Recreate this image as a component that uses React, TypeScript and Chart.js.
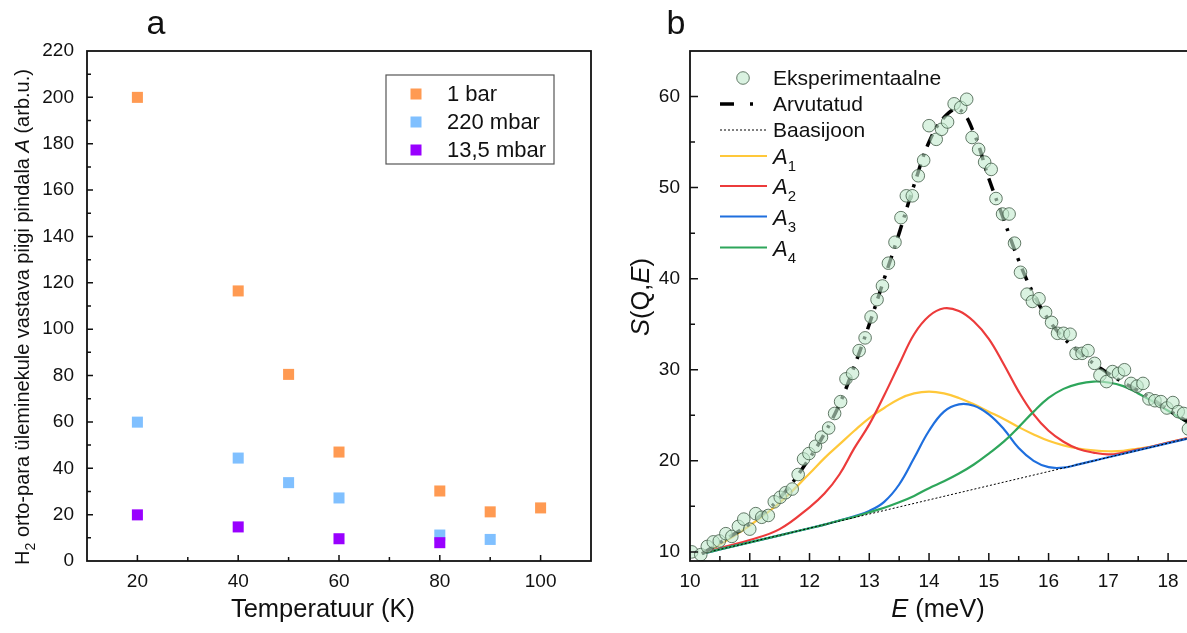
import React, { useEffect, useRef } from "react";
import { Chart, registerables } from "chart.js";

Chart.register(...registerables);

// ---------- Panel a data ----------
const seriesNamesA = ["1 bar", "220 mbar", "13,5 mbar"];
const seriesColorsA = ["#FF9A52", "#80C0FF", "#9900FF"];
const temp1bar = [20, 40, 50, 60, 80, 90, 100];
const area1bar = [200, 116.5, 80.5, 47, 30.2, 21.2, 22.9];
const temp220 = [20, 40, 50, 60, 80, 90];
const area220 = [59.9, 44.4, 33.8, 27.2, 11.2, 9.3];
const temp135 = [20, 40, 60, 80];
const area135 = [19.9, 14.7, 9.6, 7.9];

// ---------- Panel b data ----------
const expE = [10.03, 10.18, 10.29, 10.39, 10.49, 10.6, 10.7, 10.81, 10.9, 11.0, 11.1, 11.2, 11.31, 11.41, 11.51, 11.6, 11.71, 11.81, 11.9, 11.99, 12.1, 12.2, 12.32, 12.42, 12.52, 12.61, 12.72, 12.83, 12.93, 13.03, 13.13, 13.22, 13.32, 13.43, 13.53, 13.62, 13.72, 13.82, 13.91, 14.0, 14.12, 14.21, 14.31, 14.42, 14.53, 14.63, 14.72, 14.83, 14.93, 15.04, 15.12, 15.23, 15.34, 15.43, 15.53, 15.64, 15.73, 15.84, 15.95, 16.05, 16.15, 16.25, 16.36, 16.46, 16.56, 16.66, 16.77, 16.86, 16.97, 17.07, 17.17, 17.27, 17.38, 17.48, 17.58, 17.68, 17.78, 17.88, 17.98, 18.08, 18.17, 18.26, 18.34];
const expS = [10.0, 9.7, 10.6, 11.1, 11.2, 12.0, 11.7, 12.8, 13.6, 12.5, 14.2, 13.8, 14.0, 15.5, 16.0, 16.5, 16.9, 18.5, 20.2, 20.8, 21.6, 22.6, 23.6, 25.2, 26.5, 29.0, 29.6, 32.1, 33.5, 35.8, 37.7, 39.2, 41.7, 44.0, 46.7, 49.1, 49.1, 51.3, 53.0, 56.8, 55.3, 56.4, 57.2, 59.2, 58.8, 59.7, 55.5, 54.2, 52.8, 52.0, 48.8, 47.1, 47.1, 43.9, 40.7, 38.3, 37.5, 37.8, 36.3, 35.2, 34.0, 34.0, 33.9, 31.8, 31.8, 32.1, 30.7, 29.4, 28.7, 29.8, 29.6, 30.0, 28.5, 28.2, 28.5, 26.8, 26.6, 26.5, 25.8, 26.4, 25.4, 25.2, 23.5];

const fitE = [10.2, 10.5, 11, 11.5, 12, 12.25, 12.5, 12.75, 13, 13.25, 13.5, 13.75, 14, 14.25, 14.5, 14.75, 15, 15.25, 15.5, 15.75, 16, 16.25, 16.5, 16.75, 17, 17.25, 17.5, 17.75, 18, 18.4];
const fitS = [9.8, 11.0, 13.1, 15.9, 20.3, 23.0, 26.2, 30.4, 35.0, 40.0, 45.0, 50.3, 55.0, 57.7, 58.6, 56.0, 51.0, 46.5, 42.0, 38.3, 35.5, 33.5, 32.0, 30.7, 29.6, 28.6, 27.7, 26.7, 25.6, 24.0];

const baseE = [10.2, 18.4];
const baseS = [9.8, 22.56];

const compE = [10.2, 10.5, 11, 11.5, 12, 12.25, 12.5, 12.75, 13, 13.25, 13.5, 13.75, 14, 14.25, 14.5, 14.75, 15, 15.25, 15.5, 15.75, 16, 16.25, 16.5, 16.75, 17, 17.25, 17.5, 17.75, 18, 18.4];
const a1S = [9.8, 10.8, 12.9, 15.4, 18.6, 20.3, 21.8, 23.3, 24.7, 25.8, 26.8, 27.4, 27.6, 27.4, 26.9, 26.2, 25.4, 24.6, 23.7, 22.9, 22.2, 21.7, 21.35, 21.15, 21.05, 21.1, 21.35, 21.6, 22.0, 22.6];
const a2S = [9.8, 10.4, 11.3, 12.5, 14.9, 16.4, 18.5, 21.4, 24.0, 27.2, 30.6, 33.9, 35.9, 36.75, 36.45, 35.3, 33.4, 30.6, 27.6, 25.1, 23.3, 22.1, 21.3, 20.9, 20.7, 20.9, 21.25, 21.6, 22.0, 22.6];
const a3S = [9.8, 10.27, 11.04, 11.82, 12.6, 13.0, 13.45, 13.9, 14.5, 15.5, 17.4, 20.3, 23.3, 25.4, 26.2, 26.05, 25.1, 23.5, 21.4, 20.0, 19.3, 19.25, 19.61, 20.0, 20.39, 20.78, 21.17, 21.56, 21.94, 22.56];
const a4S = [9.8, 10.27, 11.04, 11.82, 12.6, 13.0, 13.45, 13.85, 14.35, 14.85, 15.45, 16.15, 17.0, 17.75, 18.6, 19.6, 20.8, 22.1, 23.7, 25.4, 26.9, 27.9, 28.45, 28.7, 28.6, 28.2, 27.4, 26.5, 25.5, 23.9];

const compColors = ["#FFC83A", "#EC3B3B", "#1F6FDE", "#2EA65B"];
const legendNamesB = ["Eksperimentaalne", "Arvutatud", "Baasijoon"];

const FAMILY = "'Liberation Sans', Arial, Helvetica, sans-serif";
const TICK_SIZE = 19;
const TITLE_SIZE = 25.5;
const LEGEND_A_SIZE = 22;
const LEGEND_B_SIZE = 21;
const PT_FILL = "rgba(196,234,206,0.62)";
const PT_BORDER = "rgba(65,90,70,0.8)";

type Part = { t: string; it?: boolean; sub?: boolean };

function drawRich(ctx: CanvasRenderingContext2D, parts: Part[], x: number, y: number, size: number, align: "left" | "center") {
  const fontFor = (p: Part) => `${p.it ? "italic " : ""}${p.sub ? Math.round(size * 0.68) : size}px ${FAMILY}`;
  let total = 0;
  const widths = parts.map((p) => {
    ctx.font = fontFor(p);
    const w = ctx.measureText(p.t).width;
    total += w;
    return w;
  });
  let cx = align === "center" ? x - total / 2 : x;
  ctx.textAlign = "left";
  ctx.textBaseline = "alphabetic";
  parts.forEach((p, i) => {
    ctx.font = fontFor(p);
    ctx.fillText(p.t, cx, y + (p.sub ? size * 0.32 : 0));
    cx += widths[i];
  });
}

function drawFrameAndTicks(chart: any, xStep: number, xMajor: (v: number) => boolean, yStep: number, yMajor: (v: number) => boolean, majLen: number, minLen: number) {
  const ctx: CanvasRenderingContext2D = chart.ctx;
  const { left, right, top, bottom } = chart.chartArea;
  const xs = chart.scales.x;
  const ys = chart.scales.y;
  ctx.save();
  ctx.strokeStyle = "#111";
  ctx.lineWidth = 1.8;
  ctx.strokeRect(left, top, right - left, bottom - top);
  ctx.lineWidth = 1.5;
  ctx.beginPath();
  const nx = Math.round((xs.max - xs.min) / xStep);
  for (let i = 0; i <= nx; i++) {
    const v = +(xs.min + i * xStep).toFixed(4);
    if (v <= xs.min || v >= xs.max) continue;
    const px = xs.getPixelForValue(v);
    const len = xMajor(v) ? majLen : minLen;
    ctx.moveTo(px, bottom);
    ctx.lineTo(px, bottom - len);
  }
  const ny = Math.round((ys.max - ys.min) / yStep) + 1;
  const y0 = Math.ceil(ys.min / yStep) * yStep;
  for (let i = 0; i <= ny; i++) {
    const v = +(y0 + i * yStep).toFixed(4);
    if (v <= ys.min || v >= ys.max) continue;
    const py = ys.getPixelForValue(v);
    const len = yMajor(v) ? majLen : minLen;
    ctx.moveTo(left, py);
    ctx.lineTo(left + len, py);
  }
  ctx.stroke();
  ctx.restore();
}

const tickFont = { family: FAMILY, size: TICK_SIZE };

function PanelA() {
  const ref = useRef<HTMLCanvasElement | null>(null);
  useEffect(() => {
    const canvas = ref.current!;
    const xs = [temp1bar, temp220, temp135];
    const ysArr = [area1bar, area220, area135];
    const plugin = {
      id: "panelA",
      afterDraw(chart: any) {
        const ctx: CanvasRenderingContext2D = chart.ctx;
        drawFrameAndTicks(chart, 10, (v) => v % 20 === 0, 10, (v) => v % 20 === 0, 6, 4);
        ctx.save();
        ctx.fillStyle = "#111";
        // panel letter
        ctx.font = `34px ${FAMILY}`;
        ctx.textAlign = "center";
        ctx.textBaseline = "alphabetic";
        ctx.fillText("a", 156, 34);
        // x title
        drawRich(ctx, [{ t: "Temperatuur (K)" }], 323, 617, TITLE_SIZE, "center");
        // y title
        ctx.save();
        ctx.translate(29, 317);
        ctx.rotate(-Math.PI / 2);
        drawRich(
          ctx,
          [
            { t: "H" },
            { t: "2", sub: true },
            { t: " orto-para üleminekule vastava piigi pindala " },
            { t: "A", it: true },
            { t: " (arb.u.)" },
          ],
          0,
          0,
          20,
          "center"
        );
        ctx.restore();
        // legend
        const bx = 386, by = 75, bw = 168, bh = 89;
        ctx.strokeStyle = "#555";
        ctx.lineWidth = 1.2;
        ctx.strokeRect(bx, by, bw, bh);
        seriesNamesA.forEach((name, i) => {
          const cy = 94 + i * 28;
          ctx.fillStyle = seriesColorsA[i];
          ctx.fillRect(416 - 5.5, cy - 5.5, 11, 11);
          ctx.fillStyle = "#111";
          ctx.font = `${LEGEND_A_SIZE}px ${FAMILY}`;
          ctx.textAlign = "left";
          ctx.textBaseline = "middle";
          ctx.fillText(name, 447, cy + 1);
        });
        ctx.restore();
      },
    };
    const chart = new Chart(canvas, {
      type: "scatter",
      data: {
        datasets: seriesNamesA.map((name, i) => ({
          label: name,
          data: xs[i].map((x, j) => ({ x, y: ysArr[i][j] })),
          pointStyle: "rect",
          pointRadius: 7.8,
          pointBorderWidth: 0,
          backgroundColor: seriesColorsA[i],
          borderColor: seriesColorsA[i],
          order: 2 - i,
        })),
      },
      options: {
        responsive: false,
        animation: false,
        devicePixelRatio: 1,
        events: [],
        layout: { padding: { left: 0, top: 51, right: 8, bottom: 0 } },
        plugins: { legend: { display: false }, tooltip: { enabled: false } },
        scales: {
          x: {
            type: "linear",
            min: 10,
            max: 110,
            afterFit: (s: any) => {
              s.height = 72;
            },
            grid: { display: false, drawTicks: false },
            border: { display: false },
            ticks: {
              stepSize: 10,
              autoSkip: false,
              maxRotation: 0,
              includeBounds: false,
              padding: 9,
              color: "#111",
              font: tickFont,
              callback: (v: any) => (Number(v) % 20 === 0 ? String(v) : ""),
            },
          },
          y: {
            type: "linear",
            min: 0,
            max: 220,
            afterFit: (s: any) => {
              s.width = 87;
            },
            grid: { display: false, drawTicks: false },
            border: { display: false },
            ticks: {
              stepSize: 10,
              autoSkip: false,
              includeBounds: false,
              padding: 13,
              color: "#111",
              font: tickFont,
              callback: (v: any) => (Number(v) % 20 === 0 ? String(v) : ""),
            },
          },
        },
      },
      plugins: [plugin],
    } as any);
    return () => chart.destroy();
  }, []);
  return (
    <canvas
      ref={ref}
      width={600}
      height={633}
      style={{ position: "absolute", left: 0, top: 0, width: 600, height: 633 }}
    />
  );
}

function PanelB() {
  const ref = useRef<HTMLCanvasElement | null>(null);
  useEffect(() => {
    const canvas = ref.current!;
    const OFF = 600;
    const plugin = {
      id: "panelB",
      afterDraw(chart: any) {
        const ctx: CanvasRenderingContext2D = chart.ctx;
        drawFrameAndTicks(chart, 0.5, (v) => Math.abs(v - Math.round(v)) < 1e-6, 5, (v) => v % 10 === 0, 8, 5);
        ctx.save();
        ctx.fillStyle = "#111";
        ctx.font = `34px ${FAMILY}`;
        ctx.textAlign = "center";
        ctx.textBaseline = "alphabetic";
        ctx.fillText("b", 676 - OFF, 34);
        // x title
        drawRich(ctx, [{ t: "E", it: true }, { t: " (meV)" }], 938 - OFF, 617, TITLE_SIZE, "center");
        // y title
        ctx.save();
        ctx.translate(649 - OFF, 297);
        ctx.rotate(-Math.PI / 2);
        drawRich(ctx, [{ t: "S", it: true }, { t: "(Q," }, { t: "E", it: true }, { t: ")" }], 0, 0, TITLE_SIZE, "center");
        ctx.restore();
        // legend
        const lx0 = 720 - OFF, lx1 = 767 - OFF, tx = 773 - OFF;
        const rows = [78, 104, 130, 156, 186, 216.5, 247.5];
        // experimental marker
        ctx.beginPath();
        ctx.arc(743 - OFF, rows[0], 6.3, 0, Math.PI * 2);
        ctx.fillStyle = PT_FILL;
        ctx.fill();
        ctx.strokeStyle = PT_BORDER;
        ctx.lineWidth = 1;
        ctx.stroke();
        // calculated
        ctx.strokeStyle = "#000";
        ctx.lineWidth = 3.5;
        ctx.beginPath();
        ctx.moveTo(lx0, rows[1]);
        ctx.lineTo(lx0 + 14, rows[1]);
        ctx.moveTo(750 - OFF, rows[1]);
        ctx.lineTo(753 - OFF, rows[1]);
        ctx.stroke();
        // baseline
        ctx.lineWidth = 1;
        ctx.setLineDash([2, 2]);
        ctx.beginPath();
        ctx.moveTo(lx0, rows[2]);
        ctx.lineTo(lx1, rows[2]);
        ctx.stroke();
        ctx.setLineDash([]);
        compColors.forEach((c, i) => {
          ctx.strokeStyle = c;
          ctx.lineWidth = 2.2;
          ctx.beginPath();
          ctx.moveTo(lx0, rows[3 + i]);
          ctx.lineTo(lx1, rows[3 + i]);
          ctx.stroke();
        });
        ctx.fillStyle = "#111";
        legendNamesB.forEach((n, i) => {
          ctx.textAlign = "left";
          ctx.textBaseline = "middle";
          ctx.font = `${LEGEND_B_SIZE}px ${FAMILY}`;
          ctx.fillText(n, tx, rows[i] + 1);
        });
        for (let i = 0; i < 4; i++) {
          drawRich(ctx, [{ t: "A", it: true }, { t: String(i + 1), sub: true }], tx, rows[3 + i] + 8, LEGEND_B_SIZE + 1, "left");
        }
        ctx.restore();
      },
    };
    const curve = (xsv: number[], ysv: number[]) => xsv.map((x, i) => ({ x, y: ysv[i] }));
    const smooth = { showLine: true, pointRadius: 0, tension: 0.4, cubicInterpolationMode: "default" };
    const chart = new Chart(canvas, {
      type: "scatter",
      data: {
        datasets: [
          {
            label: legendNamesB[0],
            data: curve(expE, expS),
            pointStyle: "circle",
            pointRadius: 6.3,
            pointBorderWidth: 1,
            backgroundColor: PT_FILL,
            borderColor: PT_BORDER,
          },
          {
            label: legendNamesB[1],
            data: curve(fitE, fitS),
            ...smooth,
            borderColor: "#000",
            borderWidth: 3.5,
            borderDash: [13, 8, 3, 8],
          },
          {
            label: legendNamesB[2],
            data: curve(baseE, baseS),
            showLine: true,
            pointRadius: 0,
            borderColor: "#000",
            borderWidth: 1,
            borderDash: [2, 2],
          },
          { label: "A4", data: curve(compE, a4S), ...smooth, borderColor: compColors[3], borderWidth: 2.2 },
          { label: "A3", data: curve(compE, a3S), ...smooth, borderColor: compColors[2], borderWidth: 2.2 },
          { label: "A2", data: curve(compE, a2S), ...smooth, borderColor: compColors[1], borderWidth: 2.2 },
          { label: "A1", data: curve(compE, a1S), ...smooth, borderColor: compColors[0], borderWidth: 2.2 },
        ],
      },
      options: {
        responsive: false,
        animation: false,
        devicePixelRatio: 1,
        events: [],
        layout: { padding: { left: 0, top: 51, right: 8, bottom: 0 } },
        plugins: { legend: { display: false }, tooltip: { enabled: false } },
        scales: {
          x: {
            type: "linear",
            min: 10,
            max: 18.4,
            afterFit: (s: any) => {
              s.height = 72;
            },
            grid: { display: false, drawTicks: false },
            border: { display: false },
            ticks: {
              stepSize: 0.5,
              autoSkip: false,
              maxRotation: 0,
              includeBounds: false,
              padding: 9,
              color: "#111",
              font: tickFont,
              callback: (v: any) => (Number.isInteger(Number(v)) ? String(v) : ""),
            },
          },
          y: {
            type: "linear",
            min: 9,
            max: 65,
            afterFit: (s: any) => {
              s.width = 90;
            },
            grid: { display: false, drawTicks: false },
            border: { display: false },
            ticks: {
              stepSize: 5,
              autoSkip: false,
              includeBounds: false,
              padding: 10,
              color: "#111",
              font: tickFont,
              callback: (v: any) => (Number(v) % 10 === 0 ? String(v) : ""),
            },
          },
        },
      },
      plugins: [plugin],
    } as any);
    return () => chart.destroy();
  }, []);
  return (
    <canvas
      ref={ref}
      width={600}
      height={633}
      style={{ position: "absolute", left: 600, top: 0, width: 600, height: 633 }}
    />
  );
}

export default function App() {
  return (
    <div
      style={{
        position: "absolute",
        left: 0,
        top: 0,
        width: 1187,
        height: 633,
        overflow: "hidden",
        background: "#fff",
      }}
    >
      <PanelA />
      <PanelB />
    </div>
  );
}
